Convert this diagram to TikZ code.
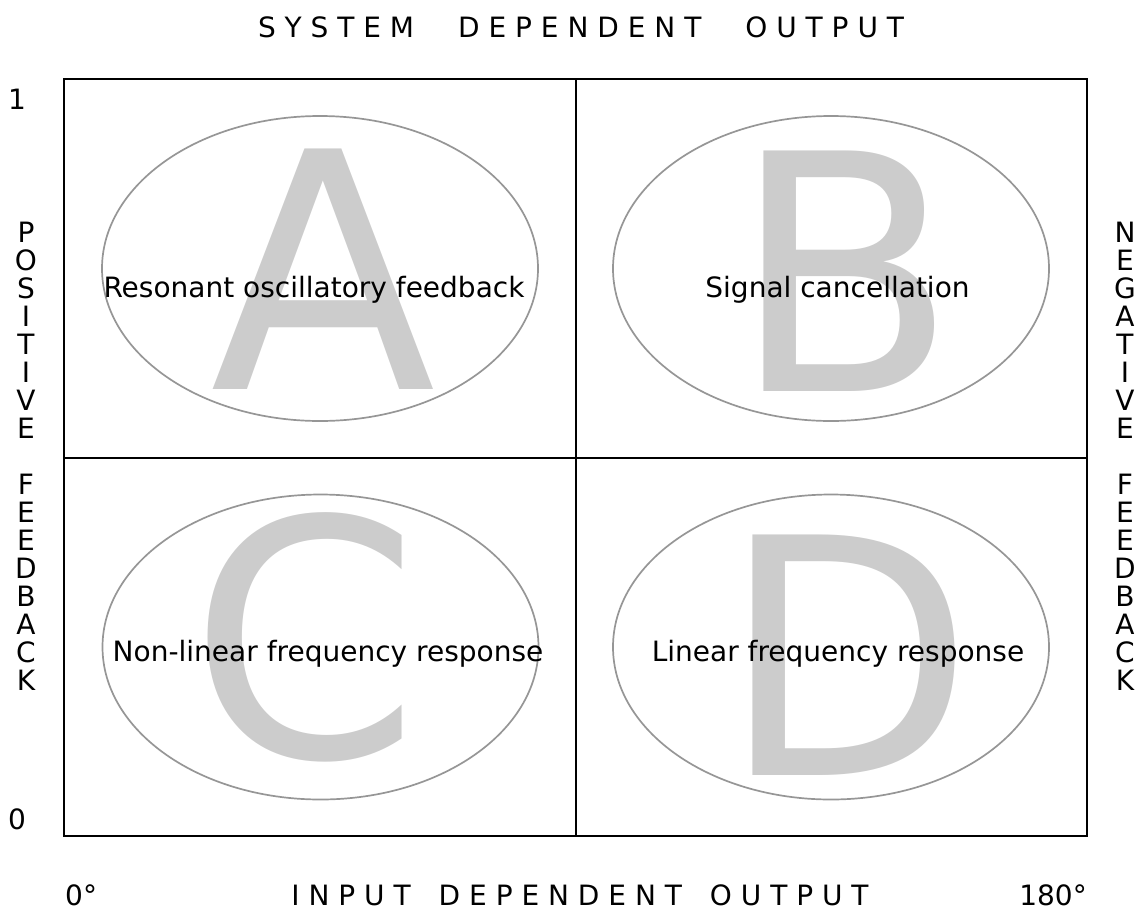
\documentclass[tikz,border=0pt]{standalone}
\usepackage{fontspec}
\setmainfont{DejaVu Sans}
\usepackage{tikz}
\usetikzlibrary{shapes.geometric}

\definecolor{letterGray}{RGB}{204,204,204}
\definecolor{zoneGray}{RGB}{150,150,150}

\begin{document}
\begin{tikzpicture}[x=1pt, y=-1pt,
  zone/.style={ellipse, draw=zoneGray, line width=1.7pt, minimum width=436pt, minimum height=305pt, inner sep=0pt},
  bigletter/.style={text=letterGray, inner sep=0pt, font=\fontsize{330}{330}\selectfont},
  caption/.style={inner sep=0pt, font=\fontsize{28}{28}\selectfont},
  sidelabel/.style={caption, align=center}]
  \useasboundingbox (0,0) rectangle (1140,911);

  % the four quadrants
  \draw[line width=2pt] (64,79) rectangle (1087,836);
  \draw[line width=2pt] (576,79) -- (576,836);
  \draw[line width=2pt] (64,458) -- (1087,458);

  % big letters behind
  \node[bigletter] (letterA) at (323,269) {A};
  \node[bigletter] (letterB) at (845,271) {B};
  \node[bigletter] (letterC) at (305,637) {C};
  \node[bigletter] (letterD) at (848,655) {D};

  \node[zone] (zoneA) at (320,268.5) {};
  \node[zone] (zoneB) at (831,268.5) {};
  \node[zone] (zoneC) at (320.5,647) {};
  \node[zone] (zoneD) at (831,647) {};

  \node[caption, anchor=base] (labelA) at (314,297) {Resonant oscillatory feedback};
  \node[caption, anchor=base] (labelB) at (837.5,297) {Signal cancellation};
  \node[caption, anchor=base] (labelC) at (328,661) {Non-linear frequency response};
  \node[caption, anchor=base] (labelD) at (838,661) {Linear frequency response};

  % axes
  \node[caption] (title) at (581,27) {S Y S T E M\hspace{44pt}D E P E N D E N T\hspace{44pt}O U T P U T};
  \node[caption] (xaxis) at (580,895) {I N P U T\hspace{28pt}D E P E N D E N T\hspace{28pt}O U T P U T};
  \node[caption, anchor=west] (xmin) at (65,895) {0°};
  \node[caption, anchor=east] (xmax) at (1087,895) {180°};
  \node[caption] (ymax) at (17,99) {1};
  \node[caption] (ymin) at (17,819) {0};

  \node[sidelabel] (posfb) at (26,456) {P\\O\\S\\I\\T\\I\\V\\E\\[28pt]F\\E\\E\\D\\B\\A\\C\\K};
  \node[sidelabel] (negfb) at (1125,456) {N\\E\\G\\A\\T\\I\\V\\E\\[28pt]F\\E\\E\\D\\B\\A\\C\\K};
\end{tikzpicture}
\end{document}
